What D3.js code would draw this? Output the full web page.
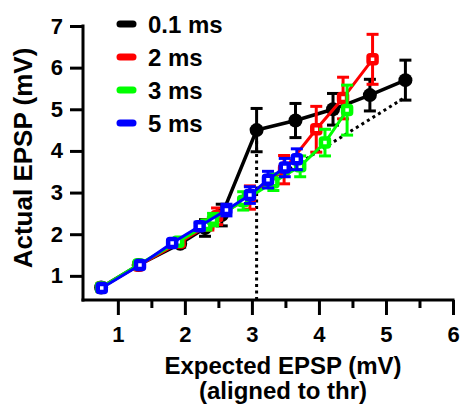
<!DOCTYPE html>
<html>
<head>
<meta charset="utf-8">
<script src="https://cdn.jsdelivr.net/npm/d3@7"></script>
<style>
  body { margin: 0; background: #fff; }
  svg text { font-family: "Liberation Sans", Arial, sans-serif; font-weight: bold; fill: #000; }
</style>
</head>
<body>
<div id="chart"></div>
<script>
// Series data (expected EPSP, actual EPSP, error)
const series = ["0.1 ms", "2 ms", "3 ms", "5 ms"];
const colors = ["#000000", "#ff0000", "#00ff00", "#0000ff"];

const x01 = [0.75, 1.31, 1.93, 2.30, 2.55, 3.07, 3.65, 4.21, 4.76, 5.29];
const y01 = [0.72, 1.26, 1.77, 2.15, 2.46, 4.50, 4.73, 5.00, 5.34, 5.70];
const e01 = [0.05, 0.05, 0.08, 0.20, 0.26, 0.52, 0.41, 0.38, 0.38, 0.48];

const x2 = [0.75, 1.31, 1.92, 2.35, 2.48, 2.97, 3.48, 3.96, 4.36, 4.80];
const y2 = [0.72, 1.25, 1.80, 2.22, 2.43, 2.88, 3.55, 4.52, 5.27, 6.20];
const e2 = [0.04, 0.05, 0.08, 0.12, 0.20, 0.28, 0.34, 0.55, 0.50, 0.60];

const x3 = [0.75, 1.31, 1.90, 2.32, 2.42, 2.87, 3.32, 3.72, 4.09, 4.42];
const y3 = [0.72, 1.27, 1.82, 2.22, 2.35, 2.80, 3.25, 3.63, 4.20, 4.98];
const e3 = [0.04, 0.05, 0.08, 0.12, 0.15, 0.22, 0.20, 0.25, 0.32, 0.60];

const x5 = [0.76, 1.33, 1.81, 2.22, 2.62, 2.97, 3.24, 3.49, 3.67];
const y5 = [0.71, 1.26, 1.79, 2.19, 2.58, 2.94, 3.31, 3.60, 3.80];
const e5 = [0.04, 0.05, 0.06, 0.10, 0.14, 0.20, 0.20, 0.22, 0.25];

const xTicks = [1, 2, 3, 4, 5, 6];
const xMinorTicks = [1.5, 2.5, 3.5, 4.5, 5.5];
const yTicks = [1, 2, 3, 4, 5, 6, 7];

// threshold marker and identity line
const thrX = 3.07;
const identity = [3.07, 5.29];

function zip(xs, ys, es) {
    return xs.map((v, i) => ({x: v, y: ys[i], e: es[i]}));
}
const data = [zip(x01, y01, e01), zip(x2, y2, e2), zip(x3, y3, e3), zip(x5, y5, e5)];

const width = 462, height = 404;
const svg = d3.select("#chart").append("svg")
    .attr("width", width).attr("height", height);

const x = d3.scaleLinear().domain([0.48, 6]).range([83, 453]);
const y = d3.scaleLinear().domain([0.42, 7]).range([300, 26]);

// Axes
const xAxis = svg.append("g").attr("transform", "translate(0,300)")
    .call(d3.axisBottom(x).tickValues(xTicks).tickSize(15).tickSizeOuter(0).tickPadding(11).tickFormat(d3.format("d")));
svg.append("g").attr("transform", "translate(0,300)")
    .call(d3.axisBottom(x).tickValues(xMinorTicks).tickSize(8).tickSizeOuter(0).tickFormat(""))
    .select(".domain").remove();
const yAxis = svg.append("g").attr("transform", "translate(83,0)")
    .call(d3.axisLeft(y).tickValues(yTicks).tickSize(13).tickSizeOuter(0).tickPadding(7).tickFormat(d3.format("d")));

svg.selectAll(".domain, .tick line").attr("stroke", "#000").attr("stroke-width", 3);
svg.selectAll(".tick text").attr("font-size", 22).attr("font-family", "Liberation Sans, Arial, sans-serif").attr("font-weight", "bold");
xAxis.selectAll(".domain").attr("d", "M81.5,0H454.5");
yAxis.selectAll(".domain").attr("d", "M0,24.5V301.5");

// Axis titles
svg.append("text").attr("x", 283).attr("y", 374).attr("text-anchor", "middle")
    .attr("font-size", 24).text("Expected EPSP (mV)");
svg.append("text").attr("x", 283).attr("y", 399).attr("text-anchor", "middle")
    .attr("font-size", 24).text("(aligned to thr)");
svg.append("text").attr("transform", "translate(32,158) rotate(-90)").attr("text-anchor", "middle")
    .attr("font-size", 26).text("Actual EPSP (mV)");

// Dotted reference lines
svg.append("line")
    .attr("x1", x(thrX)).attr("x2", x(thrX))
    .attr("y1", y(0.42)).attr("y2", y(y01[5]))
    .attr("stroke", "#000").attr("stroke-width", 3).attr("stroke-dasharray", "3,3.5");
svg.append("line")
    .attr("x1", x(identity[0])).attr("y1", y(identity[0]))
    .attr("x2", x(identity[1])).attr("y2", y(identity[1]))
    .attr("stroke", "#000").attr("stroke-width", 3).attr("stroke-dasharray", "3,3.5");

const line = d3.line().x(d => x(d.x)).y(d => y(d.y));

data.forEach((pts, k) => {
    const c = colors[k];
    const g = svg.append("g");
    g.append("path").datum(pts).attr("d", line)
        .attr("fill", "none").attr("stroke", c).attr("stroke-width", k === 0 ? 3.5 : 3);
    // error bars
    const eb = g.selectAll(".eb").data(pts).enter().append("g");
    eb.append("line")
        .attr("x1", d => x(d.x)).attr("x2", d => x(d.x))
        .attr("y1", d => y(d.y - d.e)).attr("y2", d => y(d.y + d.e))
        .attr("stroke", c).attr("stroke-width", 3);
    [-1, 1].forEach(s => {
        eb.append("line")
            .attr("x1", d => x(d.x) - 6).attr("x2", d => x(d.x) + 6)
            .attr("y1", d => y(d.y + s * d.e)).attr("y2", d => y(d.y + s * d.e))
            .attr("stroke", c).attr("stroke-width", 3);
    });
    // markers
    if (k === 0) {
        g.selectAll("circle").data(pts).enter().append("circle")
            .attr("cx", d => x(d.x)).attr("cy", d => y(d.y)).attr("r", 7).attr("fill", c);
    } else {
        g.selectAll("rect").data(pts).enter().append("rect")
            .attr("x", d => x(d.x) - 4).attr("y", d => y(d.y) - 4)
            .attr("width", 8).attr("height", 8).attr("rx", 1.5)
            .attr("fill", "#fff").attr("stroke", c).attr("stroke-width", 4.5);
    }
});

// Legend
const legend = svg.append("g");
series.forEach((s, i) => {
    const yy = 24 + i * 33;
    legend.append("line").attr("x1", 120).attr("x2", 133).attr("y1", yy).attr("y2", yy)
        .attr("stroke", colors[i]).attr("stroke-width", 7).attr("stroke-linecap", "round");
    legend.append("text").attr("x", 148).attr("y", yy + 8.5).attr("font-size", 24).text(s);
});
</script>
</body>
</html>
